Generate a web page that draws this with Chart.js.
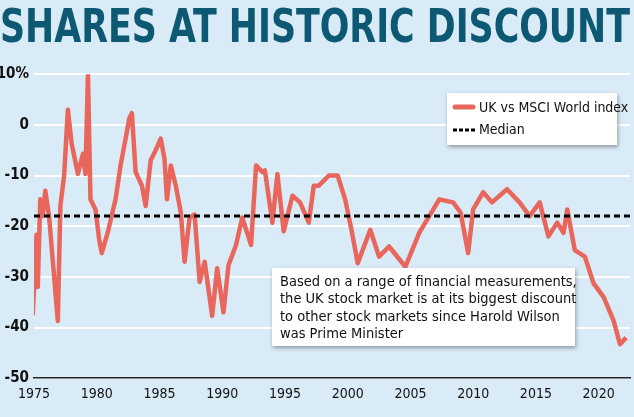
<!DOCTYPE html>
<html><head><meta charset="utf-8">
<script src="https://cdn.jsdelivr.net/npm/chart.js@4"></script>
<style>
html,body{margin:0;padding:0;background:#d9ebf7;}
#wrap{width:634px;height:417px;position:relative;}
</style></head>
<body><div id="wrap"><canvas id="c" width="634" height="417"></canvas></div>
<script>
const years = [1974.9,1975.1,1975.2,1975.3,1975.5,1975.7,1975.9,1976.2,1976.9,1977.1,1977.4,1977.7,1978.0,1978.5,1978.9,1979.1,1979.3,1979.5,1979.9,1980.2,1980.4,1980.9,1981.5,1981.9,1982.3,1982.6,1982.8,1983.1,1983.6,1983.9,1984.3,1984.7,1985.1,1985.4,1985.6,1985.9,1986.3,1986.7,1987.0,1987.4,1987.8,1988.2,1988.6,1989.2,1989.6,1990.1,1990.5,1991.1,1991.6,1992.3,1992.7,1993.2,1993.4,1994.0,1994.4,1994.9,1995.6,1996.2,1996.9,1997.3,1997.7,1998.5,1999.2,1999.8,2000.3,2000.8,2001.8,2002.5,2003.3,2004.6,2005.7,2006.5,2007.3,2008.4,2009.0,2009.6,2010.0,2010.8,2011.5,2012.7,2013.7,2014.5,2015.3,2016.0,2016.7,2017.2,2017.5,2018.1,2018.9,2019.6,2020.4,2021.2,2021.7,2022.2];
const discount = [-37.6,-27,-21.7,-32,-14.7,-18,-13,-18,-38.7,-16,-10,3,-3.7,-9.7,-5.7,-9.7,10,-14.7,-16.7,-22.7,-25.3,-21,-14.7,-8,-2.7,1.3,2.3,-9.3,-12,-16,-7,-5,-2.7,-6.7,-14.7,-8,-12,-17.3,-27,-18.3,-17.7,-31,-27,-37.7,-28.3,-37,-27.7,-23.7,-18.3,-23.7,-8,-9.3,-9,-19.3,-9.7,-21,-14,-15.3,-19.3,-12,-12,-10,-10,-14.7,-20.7,-27.3,-20.7,-26,-24,-28,-21.3,-18,-14.7,-15.3,-17.3,-25.3,-16.7,-13.3,-15.3,-12.7,-15.3,-18,-15.3,-22,-19.3,-21.3,-16.7,-24.7,-26,-31.3,-34,-38.7,-43.3,-42];
const median = -18;
const yTicks = [10,0,-10,-20,-30,-40,-50];
const xTicks = [1975,1980,1985,1990,1995,2000,2005,2010,2015,2020];
const noteLines = ["Based on a range of financial measurements,","the UK stock market is at its biggest discount","to other stock markets since Harold Wilson","was Prime Minister"];

const FONT = "'Liberation Sans Narrow','DejaVu Sans Condensed',sans-serif";
const RED = '#e8665c';

const boxes = {
  id: 'boxes',
  afterDatasetsDraw(chart) {
    const ctx = chart.ctx;
    ctx.save();
    ctx.shadowColor = 'rgba(0,0,0,0.35)'; ctx.shadowBlur = 4; ctx.shadowOffsetX = 1; ctx.shadowOffsetY = 2;
    ctx.fillStyle = '#fff';
    ctx.fillRect(447, 93, 170, 52);
    ctx.fillRect(272, 268, 303, 78);
    ctx.shadowColor = 'transparent';
    ctx.lineCap = 'round';
    ctx.strokeStyle = RED; ctx.lineWidth = 5;
    ctx.beginPath(); ctx.moveTo(455, 107); ctx.lineTo(473, 107); ctx.stroke();
    ctx.strokeStyle = '#000'; ctx.lineWidth = 3; ctx.lineCap = 'butt'; ctx.setLineDash([4, 2]);
    ctx.beginPath(); ctx.moveTo(453, 130); ctx.lineTo(475, 130); ctx.stroke();
    ctx.setLineDash([]);
    ctx.fillStyle = '#111'; ctx.textBaseline = 'middle';
    ctx.font = '14px ' + FONT;
    ctx.fillText('UK vs MSCI World index', 479, 108);
    ctx.fillText('Median', 479, 130);
    ctx.font = '14.5px ' + FONT;
    noteLines.forEach((t, i) => ctx.fillText(t, 280, 282 + i * 17.5));
    ctx.restore();
  }
};

new Chart(document.getElementById('c'), {
  type: 'line',
  data: {
    datasets: [
      { label: 'UK vs MSCI World index', data: years.map((x, i) => ({x: x, y: discount[i]})),
        borderColor: RED, borderWidth: 4.5, pointRadius: 0, tension: 0, borderJoinStyle: 'round', order: 2 },
      { label: 'Median', data: [{x: 1975, y: median}, {x: 2022.5, y: median}],
        borderColor: '#000', borderWidth: 3, borderDash: [6, 4], pointRadius: 0, order: 1 }
    ]
  },
  options: {
    responsive: false, animation: false,
    layout: { padding: { left: 0, right: 4, top: 0, bottom: 12 } },
    plugins: {
      legend: { display: false }, tooltip: { enabled: false },
      title: { display: true, text: 'SHARES AT HISTORIC DISCOUNT', align: 'start', color: '#0d5872',
        font: { family: FONT, size: 46, weight: 'bold' }, padding: { top: 2, bottom: 17 } }
    },
    scales: {
      x: { type: 'linear', min: 1975, max: 2022.5,
        afterBuildTicks: a => { a.ticks = xTicks.map(v => ({value: v})); },
        grid: { display: false, drawTicks: true, tickLength: 6 },
        border: { display: true, color: '#222', width: 1.5 },
        ticks: { color: '#111', font: { family: FONT, size: 14 }, padding: 2, maxRotation: 0, callback: v => v } },
      y: { min: -50, max: 10,
        afterBuildTicks: a => { a.ticks = yTicks.map(v => ({value: v})); },
        afterFit: a => { a.width = 34; },
        grid: { color: '#ffffff', lineWidth: 2, drawTicks: false },
        border: { display: false },
        ticks: { color: '#111', padding: 5, font: { family: FONT, size: 15, weight: 'bold' },
          callback: v => v === 10 ? '10%' : v } }
    }
  },
  plugins: [boxes]
});
</script></body></html>
